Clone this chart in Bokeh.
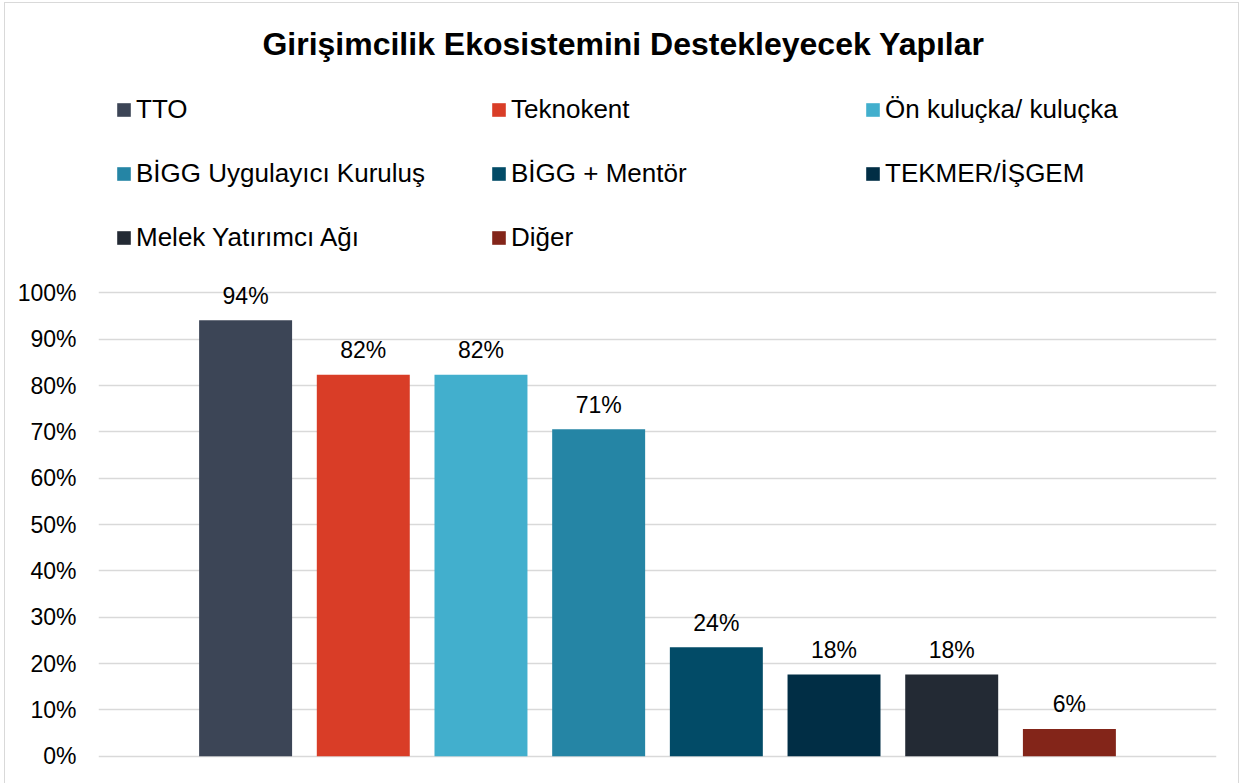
from bokeh.plotting import figure
from bokeh.models import (ColumnDataSource, FactorRange, FixedTicker, Legend,
                          LegendItem, LabelSet, Label)
from bokeh.core.properties import value
from bokeh.embed import file_html
from bokeh.resources import INLINE

# ---------------- data ----------------
title_text = "Girişimcilik Ekosistemini Destekleyecek Yapılar"
categories = ["TTO", "Teknokent", "Ön kuluçka/ kuluçka", "BİGG Uygulayıcı Kuruluş",
              "BİGG + Mentör", "TEKMER/İŞGEM", "Melek Yatırımcı Ağı", "Diğer"]
values = [94.12, 82.35, 82.35, 70.59, 23.53, 17.65, 17.65, 5.88]
value_labels = ["94%", "82%", "82%", "71%", "24%", "18%", "18%", "6%"]
colors = ["#3C4556", "#D93D27", "#42AFCD", "#2585A5",
          "#024B67", "#012E45", "#232A34", "#832519"]
y_ticks = [0, 10, 20, 30, 40, 50, 60, 70, 80, 90, 100]
y_tick_labels = ["0%", "10%", "20%", "30%", "40%", "50%", "60%", "70%", "80%", "90%", "100%"]

FONT = "Liberation Sans"

source = ColumnDataSource(dict(cat=categories, val=values, lab=value_labels, col=colors))

p = figure(
    width=1235, height=781,
    title=None,
    x_range=FactorRange(*categories, range_padding=0.75, range_padding_units="absolute"),
    y_range=(-0.5, 162.5),
    x_axis_location=None,
    toolbar_location=None,
    output_backend="svg",
    min_border_left=93, min_border_right=24, min_border_top=0, min_border_bottom=26,
    styles={"margin-left": "4px", "margin-top": "2px",
            "border-left": "1px solid #D9D9D9", "border-top": "1px solid #D9D9D9",
            "border-right": "1px solid #D9D9D9"},
)
p.outline_line_color = None
p.background_fill_color = "white"
p.border_fill_color = "white"

bars = p.vbar(x="cat", top="val", width=0.79, source=source,
              fill_color="col", line_color=None)

# y axis
ax = p.yaxis[0]
ax.ticker = FixedTicker(ticks=y_ticks)
ax.major_label_overrides = {t: l for t, l in zip(y_ticks, y_tick_labels)}
ax.axis_line_color = None
ax.major_tick_line_color = None
ax.minor_tick_line_color = None
ax.major_tick_out = 0
ax.major_tick_in = 0
ax.major_label_standoff = 22
ax.major_label_text_font = FONT
ax.major_label_text_font_size = "23px"
ax.major_label_text_color = "#000000"

p.xgrid.grid_line_color = None
p.ygrid.ticker = FixedTicker(ticks=y_ticks)
p.ygrid.grid_line_color = "#D9D9D9"
p.ygrid.grid_line_width = 1.5

# value labels
labels = LabelSet(x="cat", y="val", text="lab", source=source,
                  text_align="center", text_baseline="alphabetic", y_offset=16.5,
                  text_font=value(FONT), text_font_size=value("23px"),
                  text_color="#000000")
p.add_layout(labels)

# title
title = Label(x=3.711, y=153.8, text=title_text, text_align="center",
              text_baseline="alphabetic", text_font=FONT, text_font_size="32px",
              text_font_style="bold", text_color="#000000")
p.add_layout(title)

# legend: three columns, items in row-major order
ncols = 3
legend_x = [17, 392, 766]
for c in range(ncols):
    idx = list(range(c, len(categories), ncols))
    items = [LegendItem(label=categories[i], renderers=[bars], index=i) for i in idx]
    n = len(idx)
    h = n * 34 + (n - 1) * 30
    leg = Legend(items=items, location=(legend_x[c], 758 - 92 - h),
                 orientation="vertical", padding=0, margin=0, spacing=30,
                 glyph_width=17, glyph_height=17, label_height=34,
                 label_standoff=4, label_text_font=FONT,
                 label_text_font_size="26px", label_text_color="#000000",
                 border_line_color=None, background_fill_alpha=0)
    p.add_layout(leg)

open("out.html", "w").write(file_html(p, INLINE))
